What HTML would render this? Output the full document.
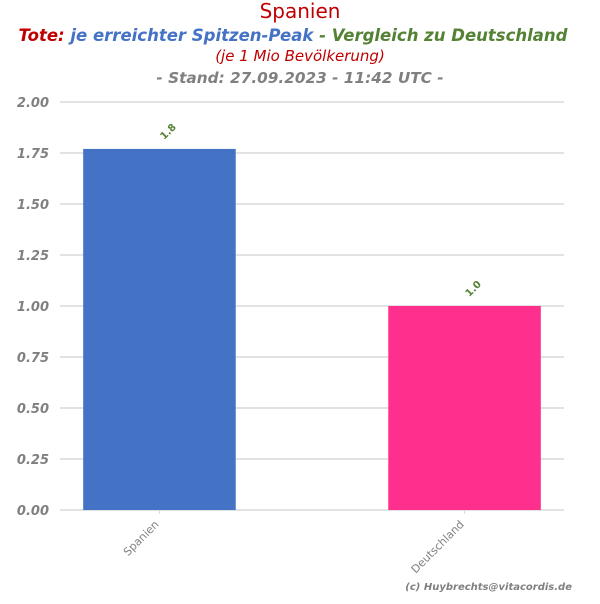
<!DOCTYPE html>
<html><head><meta charset="utf-8">
<style>
body{margin:0;background:#fff;width:600px;height:600px;overflow:hidden;font-family:"DejaVu Sans",sans-serif;}
svg text{font-family:"DejaVu Sans",sans-serif;}
</style></head>
<body>
<svg id="chart" width="600" height="600" xmlns="http://www.w3.org/2000/svg">
<text x="300" y="18" text-anchor="middle" font-size="20" fill="#c00000">Spanien</text>
<text x="293" y="41" text-anchor="middle" font-size="16.5" font-weight="bold" font-style="italic"><tspan fill="#c00000">Tote:</tspan><tspan fill="#4472c4"> je erreichter Spitzen-Peak</tspan><tspan fill="#548235"> - Vergleich zu Deutschland</tspan></text>
<text x="300" y="61" text-anchor="middle" font-size="15" font-style="italic" fill="#c00000">(je 1 Mio Bevölkerung)</text>
<text x="300" y="83" text-anchor="middle" font-size="15.3" font-weight="bold" font-style="italic" fill="#808080">- Stand: 27.09.2023 - 11:42 UTC -</text>
<g id="grid"></g>
<g id="bars"></g>
<g id="labels"></g>
<text x="572" y="590" text-anchor="end" font-size="10" font-weight="bold" font-style="italic" fill="#808080">(c) Huybrechts@vitacordis.de</text>
</svg>
<script>
const categories = ["Spanien", "Deutschland"];
const values = [1.77, 1.0];
const valueLabels = ["1.8", "1.0"];
const yTicks = [0, 0.25, 0.5, 0.75, 1.0, 1.25, 1.5, 1.75, 2.0];
const colors = ["#4472c4", "#ff2f8e"];

const NS = "http://www.w3.org/2000/svg";
const plotL = 60, plotR = 564, plotT = 102, plotB = 510;
const yMax = 2.0;
const xMin = -0.326, xMax = 1.326, barW = 0.5;
function y(v){ return plotB - (v / yMax) * (plotB - plotT); }
function x(i){ return plotL + (i - xMin) / (xMax - xMin) * (plotR - plotL); }
function mk(tag, attrs, parent){ const e = document.createElementNS(NS, tag); for (const k in attrs) e.setAttribute(k, attrs[k]); parent.appendChild(e); return e; }

const grid = document.getElementById('grid');
yTicks.forEach(t => {
  const l = mk('line', {x1: plotL, x2: plotR, y1: y(t), y2: y(t), stroke: '#d9d9d9', 'stroke-width': 1.5}, grid);
  
  
  const tx = mk('text', {x: 49, y: y(t) + 5, 'text-anchor': 'end', 'font-size': 13, 'font-weight': 'bold', 'font-style': 'italic', fill: '#808080'}, grid);
  tx.textContent = t.toFixed(2);
  
  
});

const bars = document.getElementById('bars');
const labels = document.getElementById('labels');
categories.forEach((c, i) => {
  const x0 = x(i - barW / 2), x1 = x(i + barW / 2);
  const r = mk('rect', {x: x0, y: y(values[i]), width: x1 - x0, height: plotB - y(values[i]), fill: colors[i]}, bars);
  
  
  const cx = x(i);
  const lx = cx + 11, ly = y(values[i]) - 15;
  const vl = mk('text', {x: lx, y: ly, 'text-anchor': 'middle', 'font-size': 10, 'font-weight': 'bold', fill: '#548235', transform: 'rotate(-45 ' + lx + ' ' + ly + ')'}, labels);
  vl.textContent = valueLabels[i];
  
  
  mk('line', {x1: cx, x2: cx, y1: plotB, y2: plotB + 4, stroke: '#d9d9d9'}, labels);
  const ty = plotB + 15;
  const xl = mk('text', {x: cx, y: ty, 'text-anchor': 'end', 'font-size': 11, fill: '#808080', transform: 'rotate(-45 ' + cx + ' ' + ty + ')'}, labels);
  xl.textContent = c;
  
  
});
</script>
</body></html>
